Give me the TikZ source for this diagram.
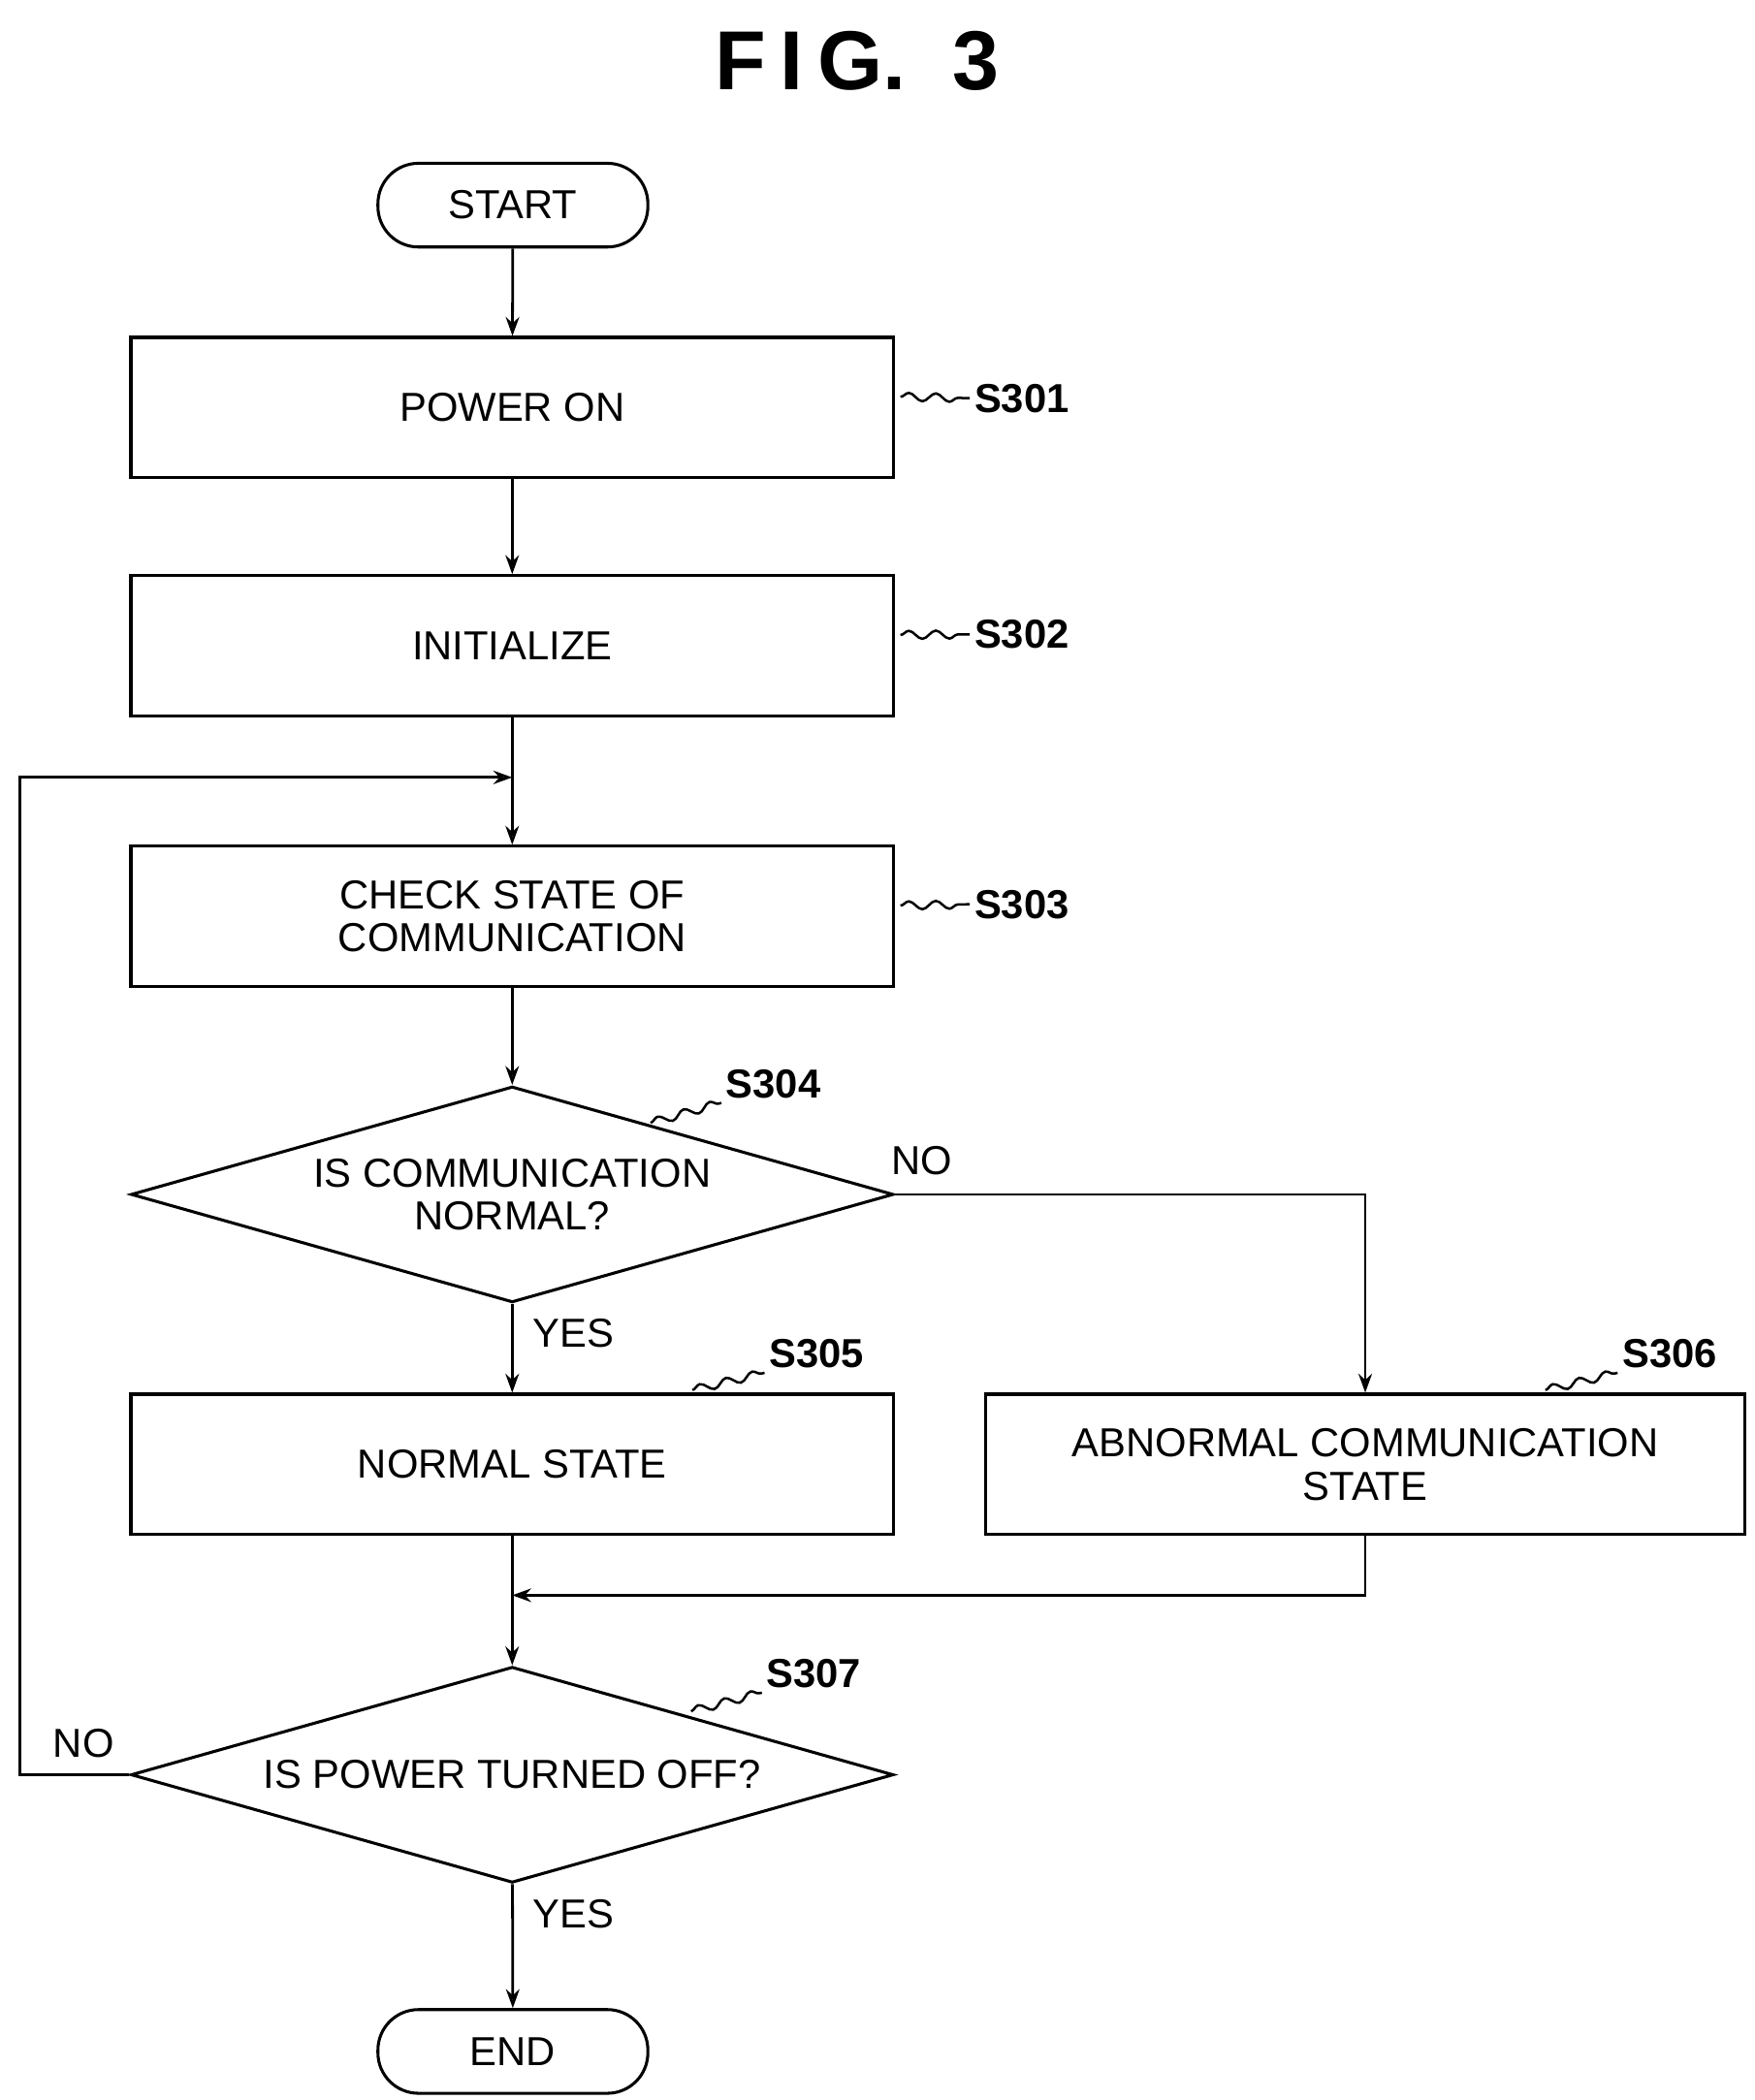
\documentclass[tikz,border=0pt]{standalone}
\usepackage{fontspec}
\setmainfont{Liberation Sans}
\usetikzlibrary{shapes.geometric,arrows.meta,decorations.pathmorphing}
\begin{document}
\begin{tikzpicture}[x=1pt,y=-1pt,
  box/.style={draw,line width=2.2pt,minimum width=565pt,minimum height=104pt,align=center,font=\fontsize{30}{32}\selectfont,inner sep=0pt},
  term/.style={draw,line width=2.2pt,rounded corners=30pt,minimum width=200pt,minimum height=62pt,font=\fontsize{30}{32}\selectfont},
  dia/.style={draw,line width=2.2pt,diamond,aspect=3.53,minimum width=565pt,minimum height=160pt,inner sep=0pt,align=center,font=\fontsize{30}{32}\selectfont},
  lab/.style={font=\bfseries\fontsize{30}{32}\selectfont},
  txt/.style={font=\fontsize{30}{32}\selectfont},
  arr/.style={line width=2pt,-{Stealth[length=14pt,width=10pt,open]}},
  ln/.style={line width=2pt},
  sq/.style={line width=1.8pt,decorate,decoration={snake,amplitude=3pt,segment length=20pt}}]
\useasboundingbox (0,0) rectangle (1300,1556);
\node[font=\bfseries\fontsize{62}{64}\selectfont] (title) at (635,45) {F\,I\,G.\ \ 3};
\node[term] (start) at (380,152) {START};
\node[box] (s301) at (379.5,302) {POWER ON};
\node[box] (s302) at (379.5,478.5) {INITIALIZE};
\node[box] (s303) at (379.5,679) {CHECK STATE OF\\COMMUNICATION};
\node[dia] (s304) at (379.5,885) {IS COMMUNICATION\\NORMAL?};
\node[box] (s305) at (379.5,1085) {NORMAL STATE};
\node[box,minimum width=563pt] (s306) at (1011.5,1085) {ABNORMAL COMMUNICATION\\STATE};
\node[dia] (s307) at (379.5,1315) {IS POWER TURNED OFF?};
\node[term] (end) at (380,1520) {END};
\node[lab] (l301) at (757,295) {S301};
\node[lab] (l302) at (757,470) {S302};
\node[lab] (l303) at (757,670) {S303};
\node[lab] (l304) at (573,803) {S304};
\node[lab] (l305) at (605,1003) {S305};
\node[lab] (l306) at (1237,1003) {S306};
\node[lab] (l307) at (603,1240) {S307};
\draw[sq] (s301.east)++(4,-8) coordinate(a1) -- (l301.west);
\draw[sq] (s302.east)++(4,-8) coordinate(a2) -- (l302.west);
\draw[sq] (s303.east)++(4,-8) coordinate(a3) -- (l303.west);
\coordinate (a4) at (482,832); \draw[sq] (a4) -- (l304.south west);
\coordinate (a5) at (513,1030); \draw[sq] (a5) -- (l305.south west);
\coordinate (a6) at (1145,1030); \draw[sq] (a6) -- (l306.south west);
\coordinate (a7) at (512,1268); \draw[sq] (a7) -- (l307.south west);
\node[txt] (no1) at (683,860) {NO};
\node[txt] (yes1) at (425,988) {YES};
\node[txt] (no2) at (62,1292) {NO};
\node[txt] (yes2) at (425,1418) {YES};
\coordinate (loopin) at (379.5,576);
\coordinate (merge) at (379.5,1182);
\draw[arr] (start) -- (s301);
\draw[arr] (s301) -- (s302);
\draw[ln] (s302) -- (loopin);
\draw[arr] (loopin) -- (s303);
\draw[arr] (s303) -- (s304);
\draw[arr] (s304) -- (s305);
\draw[arr] (s304.east) -| (s306.north);
\draw[ln] (s305) -- (merge);
\draw[arr] (s306.south) |- (merge);
\draw[arr] (merge) -- (s307.north);
\draw[arr] (s307.west) -- (15,1315) -- (15,576) -- (loopin);
\draw[arr] (s307) -- (end);
\end{tikzpicture}
\end{document}
